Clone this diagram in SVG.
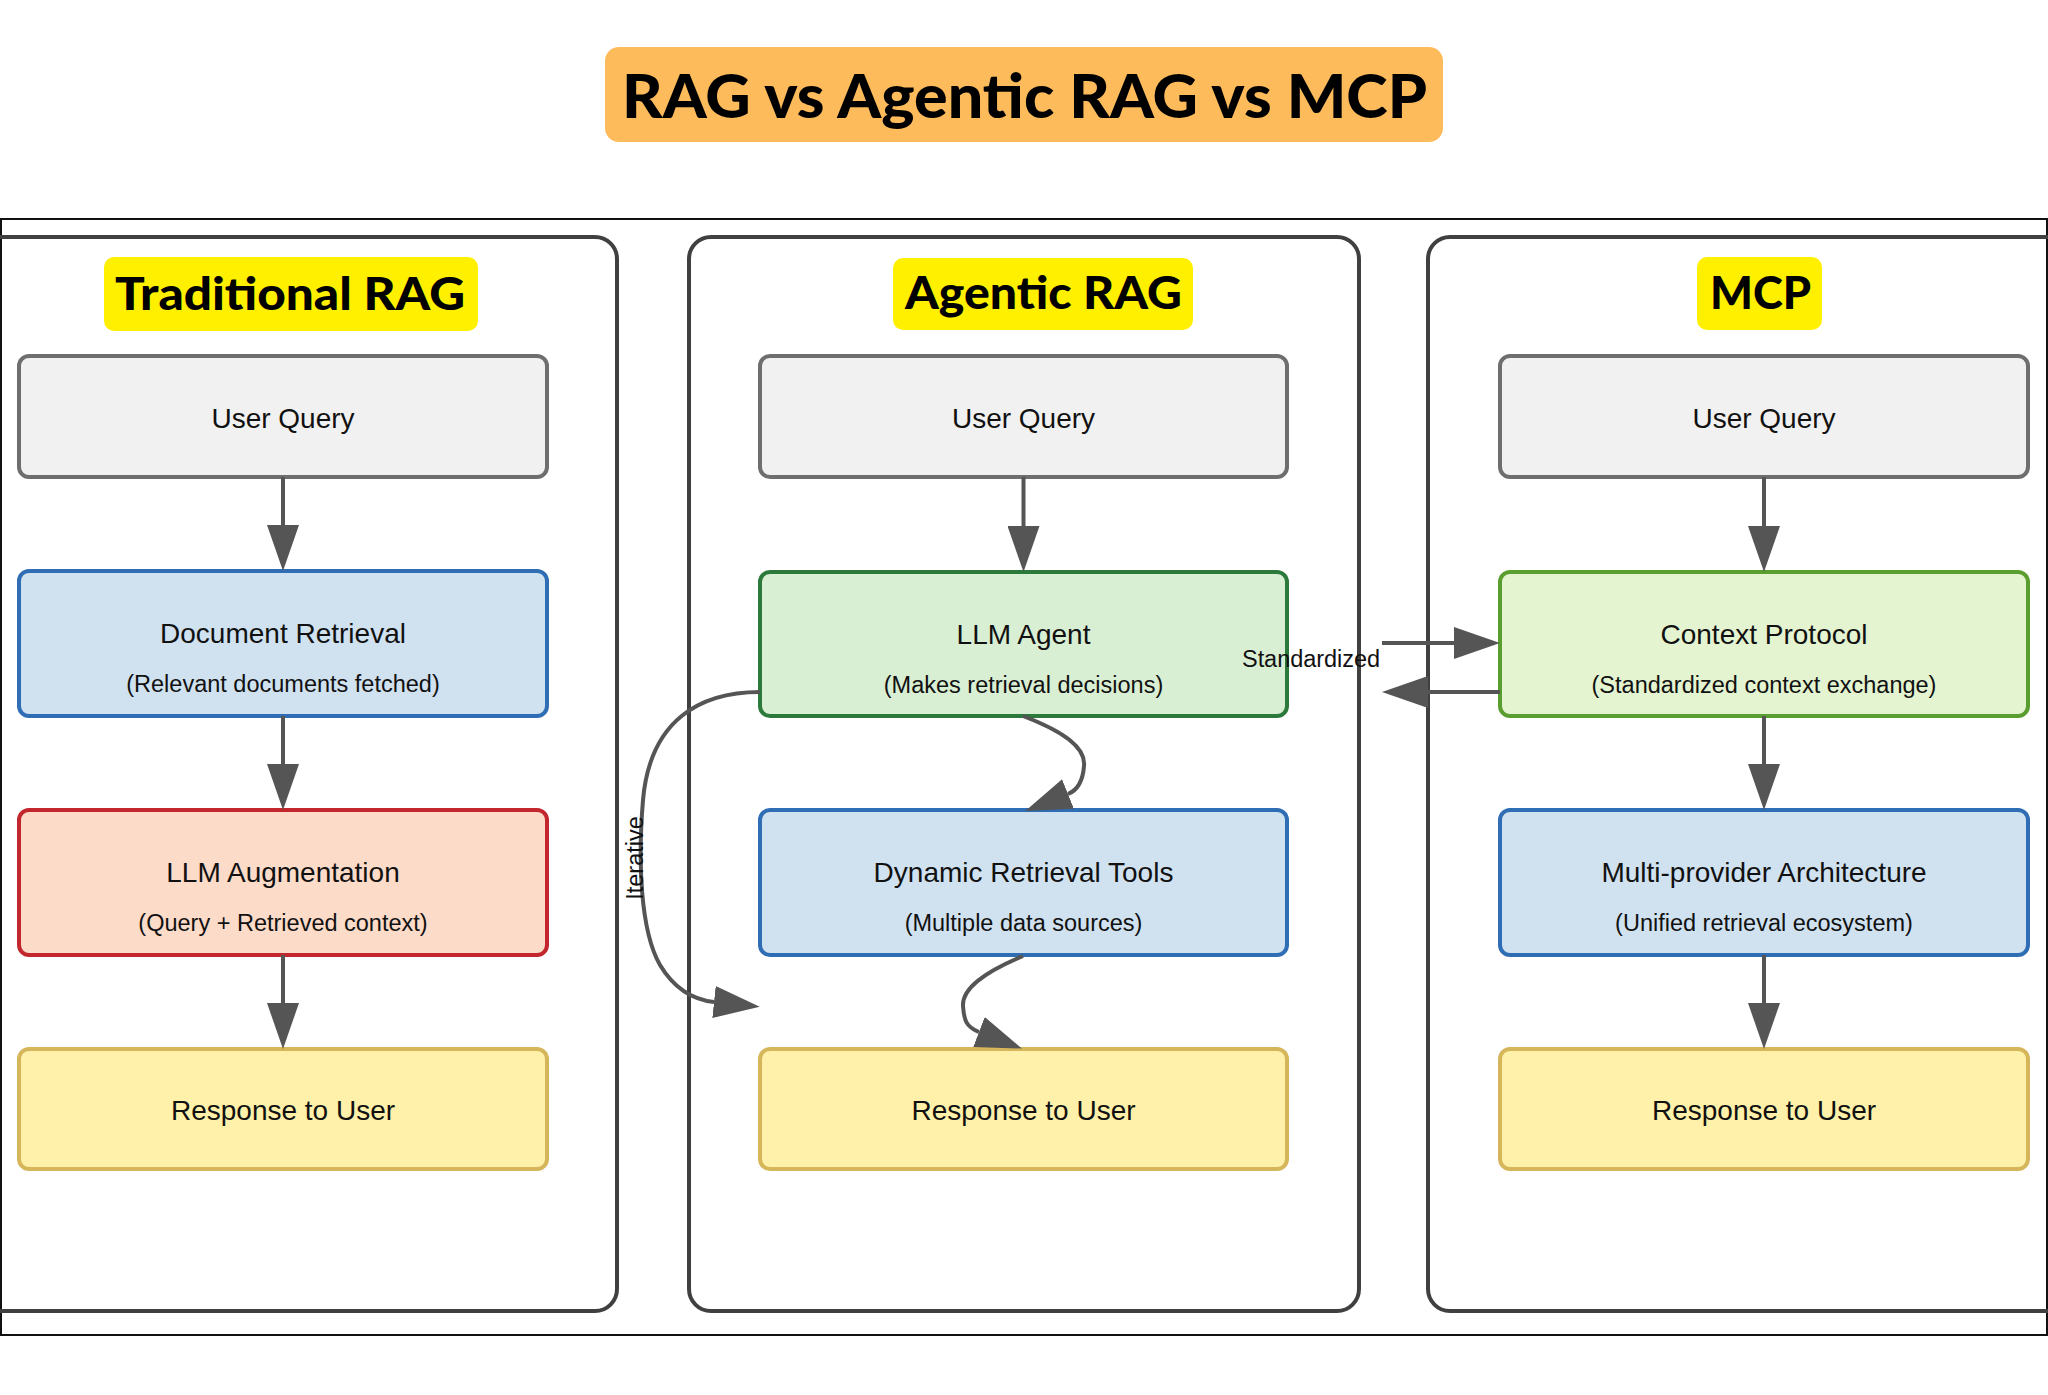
<svg xmlns="http://www.w3.org/2000/svg" width="2048" height="1395" viewBox="0 0 2048 1395">
<defs>
<marker id="ah" markerUnits="userSpaceOnUse" viewBox="0 0 46 32" refX="0" refY="16" markerWidth="46" markerHeight="32" orient="auto">
<path d="M0,0 L46,16 L0,32 z" fill="#555"/>
</marker>
</defs>
<style>
.panel{fill:none;stroke:#404040;stroke-width:4}
.node rect{stroke-width:4}
.gray rect{fill:#f1f1f1;stroke:#6e6e6e}
.blue rect{fill:#d0e2f0;stroke:#2f6db5}
.red rect{fill:#fddbc9;stroke:#c1272d}
.yel rect{fill:#fff1aa;stroke:#d6b65a}
.green rect{fill:#d9efd4;stroke:#2b7a3b}
.lgreen rect{fill:#e4f4d0;stroke:#5a9e2f}
.t{font-family:"Liberation Sans",Arial,sans-serif;font-size:28px;fill:#111;text-anchor:middle}
.s{font-size:23.5px}
.hd{font-family:Lato,"Open Sans",sans-serif;font-weight:900;fill:#000;text-anchor:middle}
.hbox{fill:#fff000}
.edge{fill:none;stroke:#555;stroke-width:4}
.lbl{font-family:"Liberation Sans",Arial,sans-serif;font-size:23.5px;fill:#111}
</style>
<rect width="2048" height="1395" fill="#fff"/>
<g id="title">
<rect x="605" y="47" width="838" height="95" rx="14" fill="#fdbb5b"/>
<text class="hd" x="1024.5" y="118" font-size="60" textLength="805" lengthAdjust="spacingAndGlyphs">RAG vs Agentic RAG vs MCP</text>
</g>
<rect id="frame" x="1" y="219" width="2046" height="1116" fill="none" stroke="#111" stroke-width="2"/>
<g id="panel-traditional">
<rect class="panel" x="-40" y="237" width="657" height="1074" rx="22"/>
<rect class="hbox" x="104" y="257" width="374" height="74" rx="10"/>
<text class="hd" x="290" y="310" font-size="46" textLength="350" lengthAdjust="spacingAndGlyphs">Traditional RAG</text>
</g>
<g id="panel-agentic">
<rect class="panel" x="689" y="237" width="670" height="1074" rx="22"/>
<rect class="hbox" x="893" y="258" width="300" height="72" rx="10"/>
<text class="hd" x="1043.5" y="309" font-size="46" textLength="277" lengthAdjust="spacingAndGlyphs">Agentic RAG</text>
</g>
<g id="panel-mcp">
<rect class="panel" x="1428" y="237" width="700" height="1074" rx="22"/>
<rect class="hbox" x="1697" y="257" width="125" height="73" rx="10"/>
<text class="hd" x="1760.5" y="309" font-size="46" textLength="101" lengthAdjust="spacingAndGlyphs">MCP</text>
</g>

<g id="t-user-query" class="node gray"><rect x="19" y="356" width="528" height="121" rx="10"/><text class="t" x="283" y="428">User Query</text></g>
<g id="t-doc-retrieval" class="node blue"><rect x="19" y="571" width="528" height="145" rx="10"/><text class="t" x="283" y="643">Document Retrieval</text><text class="t s" x="283" y="692">(Relevant documents fetched)</text></g>
<g id="t-llm-aug" class="node red"><rect x="19" y="810" width="528" height="145" rx="10"/><text class="t" x="283" y="882">LLM Augmentation</text><text class="t s" x="283" y="931">(Query + Retrieved context)</text></g>
<g id="t-response" class="node yel"><rect x="19" y="1049" width="528" height="120" rx="10"/><text class="t" x="283" y="1120">Response to User</text></g>

<g id="a-user-query" class="node gray"><rect x="760" y="356" width="527" height="121" rx="10"/><text class="t" x="1023.5" y="428">User Query</text></g>
<g id="a-llm-agent" class="node green"><rect x="760" y="572" width="527" height="144" rx="10"/><text class="t" x="1023.5" y="644">LLM Agent</text><text class="t s" x="1023.5" y="693">(Makes retrieval decisions)</text></g>
<g id="a-dynamic-tools" class="node blue"><rect x="760" y="810" width="527" height="145" rx="10"/><text class="t" x="1023.5" y="882">Dynamic Retrieval Tools</text><text class="t s" x="1023.5" y="931">(Multiple data sources)</text></g>
<g id="a-response" class="node yel"><rect x="760" y="1049" width="527" height="120" rx="10"/><text class="t" x="1023.5" y="1120">Response to User</text></g>

<g id="m-user-query" class="node gray"><rect x="1500" y="356" width="528" height="121" rx="10"/><text class="t" x="1764" y="428">User Query</text></g>
<g id="m-context-protocol" class="node lgreen"><rect x="1500" y="572" width="528" height="144" rx="10"/><text class="t" x="1764" y="644">Context Protocol</text><text class="t s" x="1764" y="693">(Standardized context exchange)</text></g>
<g id="m-multi-provider" class="node blue"><rect x="1500" y="810" width="528" height="145" rx="10"/><text class="t" x="1764" y="882">Multi-provider Architecture</text><text class="t s" x="1764" y="931">(Unified retrieval ecosystem)</text></g>
<g id="m-response" class="node yel"><rect x="1500" y="1049" width="528" height="120" rx="10"/><text class="t" x="1764" y="1120">Response to User</text></g>

<g id="connectors">
<path class="edge" d="M283,477 L283,525" marker-end="url(#ah)"/>
<path class="edge" d="M283,716 L283,764" marker-end="url(#ah)"/>
<path class="edge" d="M283,955 L283,1003" marker-end="url(#ah)"/>
<path class="edge" d="M1023.5,477 L1023.5,526" marker-end="url(#ah)"/>
<path class="edge" d="M1023,716 C1065,732 1086,748 1084,766 C1083,780 1078,790 1068,794" marker-end="url(#ah)"/>
<path class="edge" d="M1023,956 C985,972 962,988 963,1006 C964,1020 966,1027 979,1032" marker-end="url(#ah)"/>
<path class="edge" d="M760,692 C700,692 650,720 643,800 C638,860 640,930 660,965 C675,990 695,1000 714,1002" marker-end="url(#ah)"/>
<path class="edge" d="M1382,643 L1454,643" marker-end="url(#ah)"/>
<path class="edge" d="M1500,692 L1428,692" marker-end="url(#ah)"/>
<path class="edge" d="M1764,477 L1764,526" marker-end="url(#ah)"/>
<path class="edge" d="M1764,716 L1764,764" marker-end="url(#ah)"/>
<path class="edge" d="M1764,955 L1764,1003" marker-end="url(#ah)"/>
<text class="lbl" x="1242" y="667" textLength="138">Standardized</text>
<text class="lbl" text-anchor="middle" transform="translate(643,858) rotate(-90)">Iterative</text>
</g>
</svg>
